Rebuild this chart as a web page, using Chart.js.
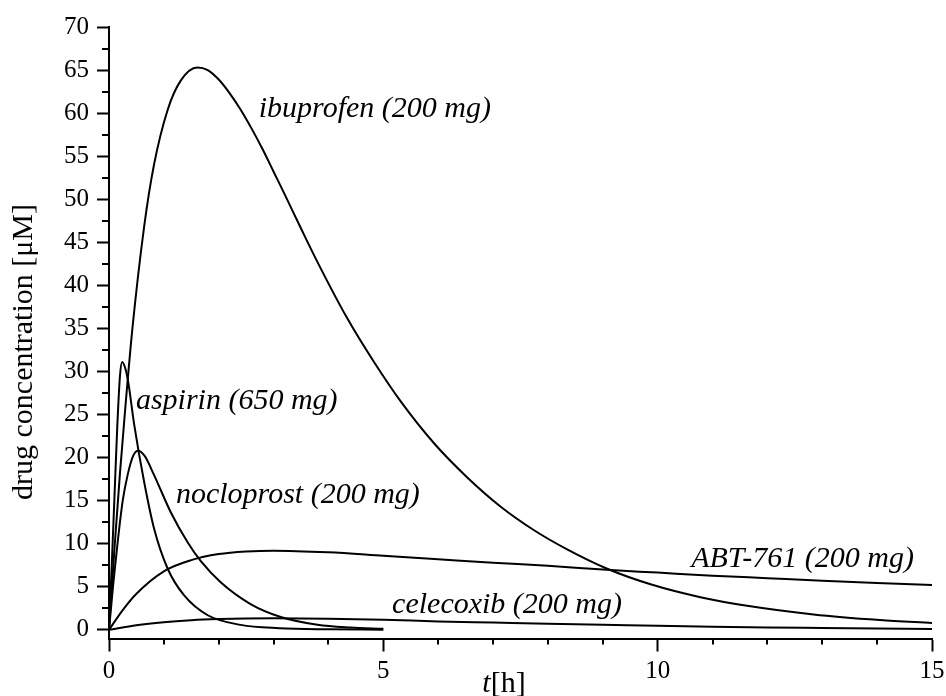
<!DOCTYPE html>
<html>
<head>
<meta charset="utf-8">
<script src="https://cdn.jsdelivr.net/npm/chart.js@4.4.1/dist/chart.umd.min.js"></script>
<style>
html,body{margin:0;padding:0;background:#fff;}
#wrap{width:946px;height:696px;}
</style>
</head>
<body>
<div id="wrap"><canvas id="c" width="946" height="696"></canvas></div>
<script>
// Data (t in hours, concentration in µM)
const ibuprofenT = [0,0.1,0.2,0.3,0.43,0.64,0.82,1.07,1.31,1.61,1.8,2.0,2.2,2.4,2.6,2.8,3.0,3.2,3.5,3.8,4.34,4.83,5.32,5.92,6.53,7.14,7.74,8.35,9.08,9.87,10.78,11.63,12.84,14.05,15];
const ibuprofenC = [0,9.5,18.2,26,35.2,46.8,54,60.4,63.8,65.3,65.0,63.9,62.3,60.4,58.2,55.8,53.2,50.6,46.6,42.7,36.2,31.1,26.5,21.7,17.7,14.3,11.6,9.35,7.1,5.3,3.8,2.8,1.8,1.15,0.8];

const aspirinT = [0,0.05,0.1,0.15,0.2,0.24,0.3,0.35,0.46,0.64,0.82,1.07,1.37,1.8,2.4,3.1,4,5];
const aspirinC = [0,7.5,15.5,23.5,29.5,31.1,30.3,28.8,23.8,17.2,11.8,7.1,4.0,1.7,0.58,0.2,0.07,0.03];

const nocloprostT = [0,0.08,0.16,0.25,0.34,0.44,0.53,0.65,0.82,1.13,1.43,1.67,2.04,2.58,3.13,3.8,4.4,5];
const nocloprostC = [0,5.5,10.3,15,18,20.2,20.8,20.2,18,13.6,10.2,8.0,5.5,3.0,1.5,0.6,0.28,0.13];

const abtT = [0,0.25,0.5,1,1.5,2,2.5,3,4,5,6,7,8,9,10,11,12,13,14,15];
const abtC = [0,2.3,4.2,6.8,8.1,8.8,9.1,9.2,9.0,8.6,8.2,7.8,7.45,7.0,6.65,6.3,6.0,5.7,5.45,5.2];

const celecoxibT = [0,0.5,1,1.5,2,2.5,3,4,5,6,7,8,9,10,11,12,13,14,15];
const celecoxibC = [0,0.55,0.9,1.12,1.25,1.32,1.35,1.3,1.18,0.98,0.85,0.72,0.6,0.47,0.36,0.28,0.22,0.16,0.1];

const seriesNames = ['ibuprofen (200 mg)','aspirin (650 mg)','nocloprost (200 mg)','ABT-761 (200 mg)','celecoxib (200 mg)'];
// label anchor positions (data coordinates, left end of the text baseline)
const labelT = [2.73,0.49,1.22,10.61,5.16];
const labelC = [59.5,25.7,14.7,7.35,1.93];

const yTicks = [0,5,10,15,20,25,30,35,40,45,50,55,60,65,70];
const yMinor = [2.5,7.5,12.5,17.5,22.5,27.5,32.5,37.5,42.5,47.5,52.5,57.5,62.5,67.5];
const xTicks = [0,5,10,15];
const xMinor = [1,2,3,4,6,7,8,9,11,12,13,14];

function pts(T,C){return T.map((t,i)=>({x:t,y:C[i]}));}

const serif = '"Liberation Serif","Times New Roman",serif';

const overlay = {
  id:'overlay',
  afterDraw(chart){
    const ctx = chart.ctx, xs = chart.scales.x, ys = chart.scales.y, a = chart.chartArea;
    ctx.save();
    ctx.strokeStyle = '#000'; ctx.lineWidth = 2;
    // minor ticks
    ctx.beginPath();
    yMinor.forEach(v=>{const y=Math.round(ys.getPixelForValue(v)); ctx.moveTo(a.left, y); ctx.lineTo(a.left-7, y);});
    xMinor.forEach(v=>{const x=Math.round(xs.getPixelForValue(v)); ctx.moveTo(x, a.bottom); ctx.lineTo(x, a.bottom+6);});
    ctx.stroke();
    // curve labels
    ctx.fillStyle = '#000';
    ctx.font = 'italic 30px ' + serif;
    ctx.textAlign = 'left'; ctx.textBaseline = 'alphabetic';
    seriesNames.forEach((n,i)=>{
      ctx.fillText(n, xs.getPixelForValue(labelT[i]), ys.getPixelForValue(labelC[i]));
    });
    // x title: italic t + [h]
    const cx = 504, by = 692;
    ctx.font = 'italic 30px ' + serif;
    const w1 = ctx.measureText('t').width;
    ctx.font = '30px ' + serif;
    const w2 = ctx.measureText('[h]').width;
    const x0 = cx - (w1+w2)/2;
    ctx.font = 'italic 30px ' + serif;
    ctx.fillText('t', x0, by);
    ctx.font = '30px ' + serif;
    ctx.fillText('[h]', x0 + w1, by);
    // y title
    ctx.translate(32, 352);
    ctx.rotate(-Math.PI/2);
    ctx.textAlign = 'center';
    ctx.fillText('drug concentration [\u03BCM]', 0, 0);
    ctx.restore();
  }
};

const mk = (T,C)=>({data:pts(T,C), borderColor:'#000', borderWidth:2, pointRadius:0, fill:false, cubicInterpolationMode:'monotone', tension:0.4});

new Chart(document.getElementById('c'),{
  type:'line',
  data:{datasets:[mk(ibuprofenT,ibuprofenC),mk(aspirinT,aspirinC),mk(nocloprostT,nocloprostC),mk(abtT,abtC),mk(celecoxibT,celecoxibC)]},
  options:{
    responsive:false, animation:false, devicePixelRatio:1,
    layout:{padding:{left:56,right:14,top:27,bottom:4.5}},
    plugins:{legend:{display:false},tooltip:{enabled:false},title:{display:false}},
    scales:{
      x:{type:'linear',min:0,max:15,
        afterBuildTicks:(s)=>{s.ticks = xTicks.map(v=>({value:v}));},
        afterFit:(s)=>{s.paddingRight = 0; s.paddingLeft = 0;},
        ticks:{color:'#000',font:{family:serif,size:25},padding:5,maxRotation:0},
        grid:{drawOnChartArea:false,drawTicks:true,tickLength:13,tickColor:'#000',tickWidth:2},
        border:{display:true,color:'#000',width:2}},
      y:{type:'linear',min:-1,max:70,
        afterBuildTicks:(s)=>{s.ticks = yTicks.map(v=>({value:v}));},
        ticks:{color:'#000',font:{family:serif,size:25},padding:8},
        grid:{drawOnChartArea:false,drawTicks:true,tickLength:12,tickColor:'#000',tickWidth:2},
        border:{display:true,color:'#000',width:2}}
    }
  },
  plugins:[overlay]
});
</script>
</body>
</html>
